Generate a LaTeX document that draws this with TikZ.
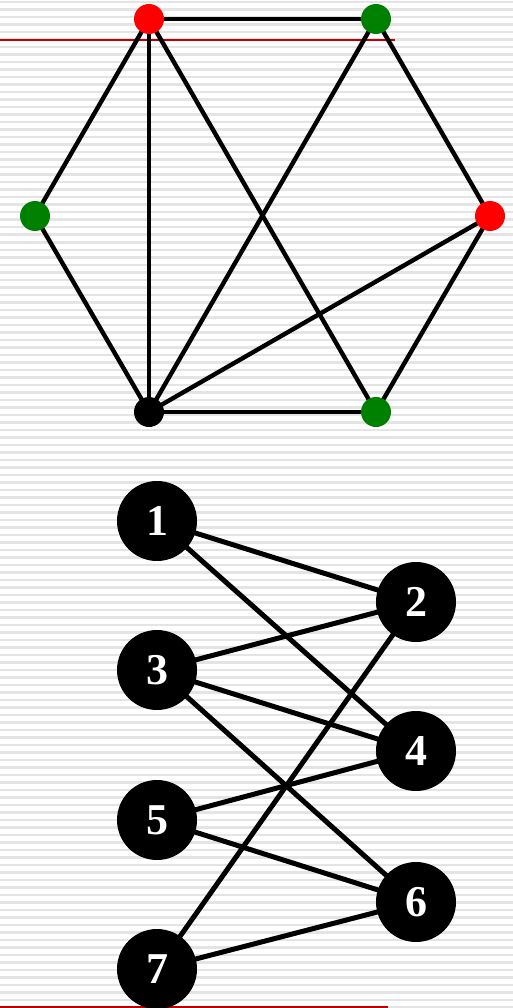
\documentclass[tikz,border=0pt]{standalone}
\usepackage{fontspec}
\setmainfont{Liberation Serif}
\pgfdeclarelayer{bg}
\pgfdeclarelayer{edges}
\pgfsetlayers{bg,edges,main}
\definecolor{dgreen}{HTML}{008000}
\definecolor{stripe}{HTML}{E4E4E4}
\definecolor{rline}{HTML}{C00000}
\begin{document}
\begin{tikzpicture}[x=1pt,y=-1pt,
  dot/.style={circle,minimum size=30pt,inner sep=0pt},
  bignode/.style={circle,fill=black,minimum size=80pt,inner sep=0pt,text=white,font=\fontsize{44}{44}\selectfont\bfseries},
  edge/.style={line width=4.4pt,black},
  bedge/.style={line width=5pt,black}]
\useasboundingbox (0,0) rectangle (513,1008);
\begin{pgfonlayer}{bg}
  \fill[white] (0,0) rectangle (513,1008);
  \foreach \i in {0,...,134} \fill[stripe] (0,\i*7.5+1) rectangle (513,\i*7.5+3.5);
  \draw[rline,line width=1.3pt] (0,40) -- (395,40);
  \draw[rline,line width=2pt] (0,1007) -- (388,1007);
\end{pgfonlayer}
% top graph
\node[dot,fill=red] (r1) at (149,19) {};
\node[dot,fill=dgreen] (g1) at (376,19) {};
\node[dot,fill=dgreen] (g2) at (35,216) {};
\node[dot,fill=red] (r2) at (490,216) {};
\node[dot,fill=black] (b) at (149,412) {};
\node[dot,fill=dgreen] (g3) at (376,412) {};
\begin{pgfonlayer}{edges}
  \draw[edge] (r1.center) -- (g1.center);
  \draw[edge] (r1.center) -- (g2.center);
  \draw[edge] (r1.center) -- (b.center);
  \draw[edge] (r1.center) -- (g3.center);
  \draw[edge] (g1.center) -- (b.center);
  \draw[edge] (g1.center) -- (r2.center);
  \draw[edge] (r2.center) -- (b.center);
  \draw[edge] (r2.center) -- (g3.center);
  \draw[edge] (g2.center) -- (b.center);
  \draw[edge] (b.center) -- (g3.center);
\end{pgfonlayer}
% bottom graph
\node[bignode] (n1) at (157,521) {1};
\node[bignode] (n2) at (416,602) {2};
\node[bignode] (n3) at (157,670) {3};
\node[bignode] (n4) at (416,751) {4};
\node[bignode] (n5) at (157,820) {5};
\node[bignode] (n6) at (416,902) {6};
\node[bignode] (n7) at (157,969) {7};
\begin{pgfonlayer}{edges}
  \draw[bedge] (n1.center) -- (n2.center);
  \draw[bedge] (n1.center) -- (n4.center);
  \draw[bedge] (n3.center) -- (n2.center);
  \draw[bedge] (n3.center) -- (n4.center);
  \draw[bedge] (n3.center) -- (n6.center);
  \draw[bedge] (n5.center) -- (n4.center);
  \draw[bedge] (n5.center) -- (n6.center);
  \draw[bedge] (n7.center) -- (n2.center);
  \draw[bedge] (n7.center) -- (n6.center);
\end{pgfonlayer}
\end{tikzpicture}
\end{document}
